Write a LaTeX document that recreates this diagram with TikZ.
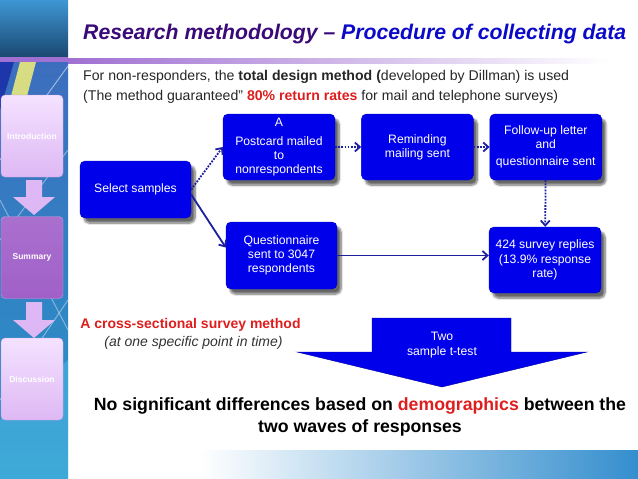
\documentclass[tikz,border=0pt]{standalone}
\usepackage{fontspec}
\setmainfont{Liberation Sans}
\usetikzlibrary{positioning,arrows.meta,shadows.blur}

\definecolor{boxblue}{RGB}{0,0,235}
\definecolor{linkblue}{RGB}{30,30,160}
\definecolor{titlepurple}{RGB}{58,10,120}
\definecolor{titleblue}{RGB}{10,10,200}
\definecolor{accentred}{RGB}{222,30,30}
\definecolor{navtop}{RGB}{244,226,255}
\definecolor{navbottom}{RGB}{222,184,244}
\definecolor{navdark}{RGB}{160,96,200}
\definecolor{barpurple}{RGB}{160,112,210}
\definecolor{sidetop}{RGB}{62,150,212}
\definecolor{sidetopdark}{RGB}{26,72,112}
\definecolor{sidemid}{RGB}{60,110,190}
\definecolor{sidelow}{RGB}{40,150,200}
\definecolor{bandblue}{RGB}{52,142,206}

\begin{document}
\begin{tikzpicture}[x=1pt, y=-1pt,
    stepbox/.style={draw=boxblue!85!black, fill=boxblue, rounded corners=5pt, text=white, align=center,
                    font=\fontsize{12.2}{13.8}\selectfont, inner sep=2pt, minimum width=112pt, minimum height=66pt,
                    blur shadow={shadow xshift=4pt, shadow yshift=-5pt, shadow blur steps=8, shadow opacity=60}},
    navbox/.style={draw=navdark!60, rounded corners=4pt, minimum width=62pt, minimum height=82pt,
                   text=white, font=\fontsize{8.5}{10}\selectfont\bfseries},
    navarr/.style={fill=navbottom, draw=none},
    arr/.style={-{Straight Barb[length=5pt, width=9pt]}, linkblue, line width=1.8pt},
    dotarr/.style={arr, dash pattern=on 1.8pt off 1.3pt},
]
    \useasboundingbox (0,0) rectangle (638,479);

    % Sidebar
    \shade[top color=sidetop, bottom color=sidetopdark] (0,0) rectangle (68,57);
    \shade[top color=sidemid, bottom color=sidelow] (0,62) rectangle (68,479);
    \begin{scope}
        \clip (0,62) rectangle (68,479);
        \fill[yellow!55!white, opacity=0.8] (20,62) -- (36,62) -- (26,100) -- (10,100) -- cycle;
        \fill[blue!60!black, opacity=0.5] (0,62) -- (14,62) -- (0,110) -- cycle;
        \draw[white, opacity=0.5, line width=1pt] (68,66) -- (0,160);
        \draw[white, opacity=0.4, line width=1pt] (68,150) -- (0,240);
        \draw[white, opacity=0.4, line width=1pt] (0,200) -- (68,330);
        \draw[white, opacity=0.4, line width=1pt] (68,300) -- (0,400);
        \fill[cyan!60!white, opacity=0.35] (0,420) -- (68,360) -- (68,479) -- (0,479) -- cycle;
    \end{scope}
    \fill[barpurple] (0,57) rectangle (68,62);
    \shade[left color=barpurple, right color=white] (68,58) rectangle (610,63);

    % Bottom band
    \shade[left color=white, right color=bandblue] (200,450) rectangle (638,479);

    % Title and intro lines
    \node[anchor=base west, inner sep=0pt, font=\fontsize{21.2}{24}\selectfont\bfseries\itshape, text=titlepurple] (title) at (83,39)
        {Research methodology -- \textcolor{titleblue}{Procedure of collecting data}};
    \node[anchor=base west, inner sep=0pt, font=\fontsize{14.1}{16}\selectfont, text=black!85] (intro1) at (83,80)
        {For non-responders, the \textbf{total design method (}developed by Dillman) is used};
    \node[anchor=base west, inner sep=0pt, font=\fontsize{14.1}{16}\selectfont, text=black!85] (intro2) at (83,100)
        {(The method guaranteed" \textcolor{accentred}{\textbf{80\% return rates}} for mail and telephone surveys)};

    % Navigation
    \node[navbox, top color=navtop, bottom color=navbottom] (introbox) at (32,136) {Introduction};
    \node[navbox, top color=navdark!90, bottom color=navdark] (sumbox) at (32,257.5) {Summary};
    \node[navbox, top color=navtop, bottom color=navbottom] (discbox) at (32,379) {Discussion};
    \fill[navarr] (26,180) -- (42,180) -- (42,197) -- (55,197) -- (34,215) -- (13,197) -- (26,197) -- cycle;
    \fill[navarr] (26,302) -- (42,302) -- (42,320) -- (55,320) -- (34,338) -- (13,320) -- (26,320) -- cycle;

    % Flow boxes
    \node[stepbox, minimum width=111pt, minimum height=57pt] (sel) at (135.5,189.5) {Select samples};
    \node[stepbox] (post) at (279,147) {A\\[5pt]Postcard mailed\\to\\nonrespondents};
    \node[stepbox, right=26pt of post] (remind) {Reminding\\mailing sent};
    \node[stepbox, right=16pt of remind] (follow) {Follow-up letter\\and\\[4pt]questionnaire sent};
    \node[stepbox, minimum width=111pt, minimum height=67pt] (quest) at (281.5,255.5) {Questionnaire\\sent to 3047\\respondents};
    \node[stepbox, font=\fontsize{12.2}{14.8}\selectfont] (reply) at (545,260) {424 survey replies\\(13.9\% response\\rate)};

    % Connections
    \draw[dotarr] (sel.east) -- (post.west);
    \draw[dotarr] (post) -- (remind);
    \draw[dotarr] (remind) -- (follow);
    \draw[dotarr] (follow) -- (reply);
    \draw[arr] ([yshift=-5pt]sel.east) -- ([yshift=8pt]quest.west);
    \draw[arr] (quest.east) -- (quest.east -| reply.west);

    % Big arrow
    \fill[boxblue, draw=boxblue!70!black, line width=0.4pt] (372,318) -- (511,318) -- (511,352) -- (587,352)
        -- (442,387) -- (297,352) -- (372,352) -- cycle;
    \node[text=white, align=center, font=\fontsize{12.2}{15}\selectfont] (ttest) at (442,345.5) {Two\\sample t-test};

    % Notes
    \node[font=\fontsize{14}{16}\selectfont\bfseries, text=accentred] (cross) at (190.5,325) {A cross-sectional survey method};
    \node[font=\fontsize{14}{16}\selectfont\itshape, text=black!80] (point) at (193.5,343) {(at one specific point in time)};
    \node[font=\fontsize{17.7}{22}\selectfont\bfseries, align=center] (result) at (360,417)
        {No significant differences based on \textcolor{accentred}{demographics} between the\\two waves of responses};

\end{tikzpicture}
\end{document}
